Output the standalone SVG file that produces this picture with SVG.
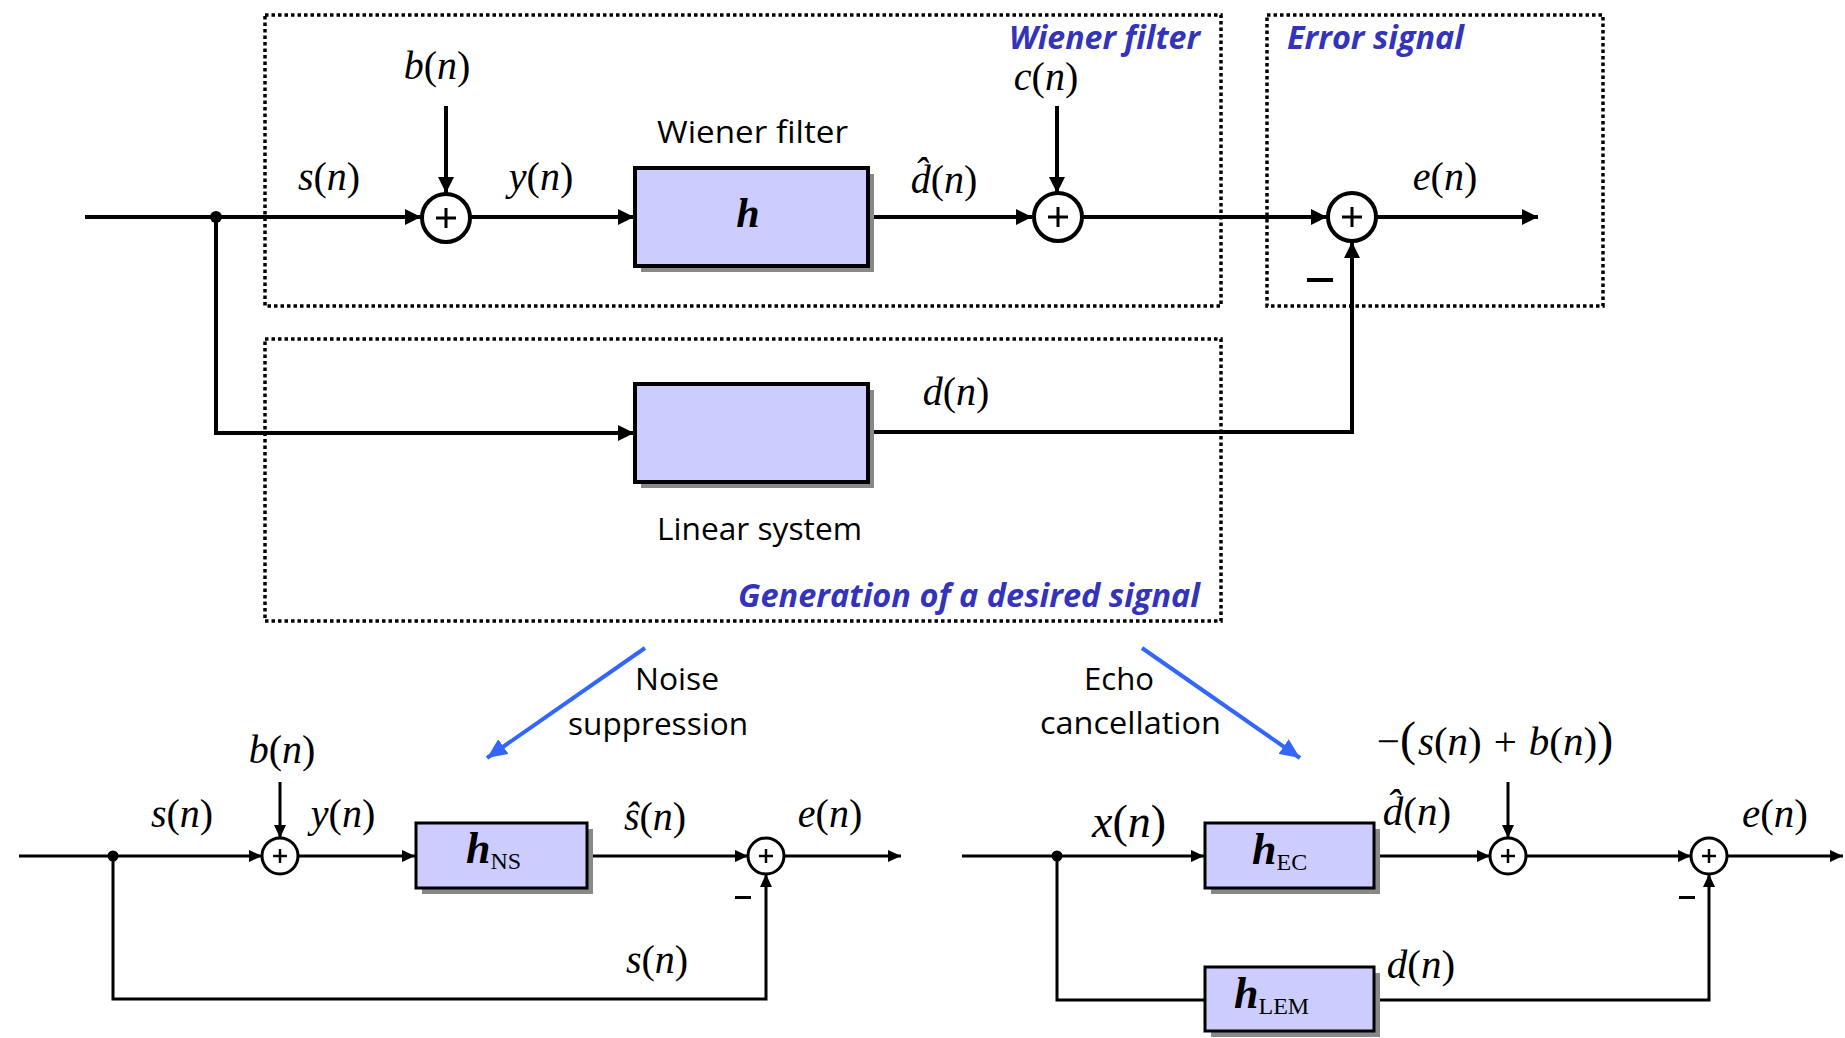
<svg xmlns="http://www.w3.org/2000/svg" width="1845" height="1038" viewBox="0 0 1845 1038">
<style>
.bg{fill:#ffffff}
.w{fill:none;stroke:#000;stroke-width:4}
.t{fill:none;stroke:#000;stroke-width:3}
.dot{fill:none;stroke:#000;stroke-width:3.5;stroke-dasharray:3.5 3}
.box{fill:#ccccff;stroke:#000;stroke-width:4}
.box2{fill:#ccccff;stroke:#000;stroke-width:3}
.sh{fill:#888888}
.sum{fill:#fff;stroke:#000;stroke-width:4}
.sum2{fill:#fff;stroke:#000;stroke-width:3}
.m{font-family:"Liberation Serif",serif;fill:#000}
.mi{font-style:italic}
.sans{font-family:"Open Sans","Liberation Sans",sans-serif;fill:#000}
.lbl{font-family:"Open Sans","Liberation Sans",sans-serif;font-weight:bold;font-style:italic;fill:#3333bb;font-size:32px}
.hb{font-family:"Liberation Serif",serif;font-weight:bold;font-style:italic}
.sub{font-family:"Liberation Serif",serif;font-size:24px}
.blue{fill:none;stroke:#3366ff;stroke-width:4}
</style>
<defs>
<marker id="ab" viewBox="0 0 16 16" refX="16" refY="8" markerWidth="16" markerHeight="16" markerUnits="userSpaceOnUse" orient="auto"><path d="M0,0 L16,8 L0,16 z" fill="#000"/></marker>
<marker id="as" viewBox="0 0 13 12" refX="13" refY="6" markerWidth="13" markerHeight="12" markerUnits="userSpaceOnUse" orient="auto"><path d="M0,0 L13,6 L0,12 z" fill="#000"/></marker>
<marker id="abl" viewBox="0 0 20 18" refX="20" refY="9" markerWidth="20" markerHeight="18" markerUnits="userSpaceOnUse" orient="auto"><path d="M0,0 L20,9 L0,18 z" fill="#3366ff"/></marker>
</defs>
<rect class="bg" x="0" y="0" width="1845" height="1038"/>

<!-- region frames -->
<g id="frame-wiener">
<rect class="dot" x="265" y="15" width="956" height="291"/>
<text class="lbl" x="1009" y="49" textLength="191" lengthAdjust="spacingAndGlyphs">Wiener filter</text>
</g>
<g id="frame-error">
<rect class="dot" x="1267" y="15" width="336" height="291"/>
<text class="lbl" x="1287" y="49" textLength="177" lengthAdjust="spacingAndGlyphs">Error signal</text>
</g>
<g id="frame-generation">
<rect class="dot" x="265" y="339" width="956" height="282"/>
<text class="lbl" x="738" y="607" textLength="462" lengthAdjust="spacingAndGlyphs">Generation of a desired signal</text>
</g>

<!-- connectors -->
<g id="connectors">
<!-- top -->
<line class="w" x1="85" y1="217" x2="421" y2="217" marker-end="url(#ab)"/>
<line class="w" x1="446" y1="106" x2="446" y2="193" marker-end="url(#ab)"/>
<line class="w" x1="471" y1="217" x2="634" y2="217" marker-end="url(#ab)"/>
<line class="w" x1="868" y1="217" x2="1032" y2="217" marker-end="url(#ab)"/>
<line class="w" x1="1057" y1="106" x2="1057" y2="193" marker-end="url(#ab)"/>
<line class="w" x1="1082" y1="217" x2="1327" y2="217" marker-end="url(#ab)"/>
<line class="w" x1="1377" y1="217" x2="1538" y2="217" marker-end="url(#ab)"/>
<polyline class="w" points="216,217 216,433 634,433" marker-end="url(#ab)"/>
<polyline class="w" points="868,432 1352,432 1352,242" marker-end="url(#ab)"/>
<!-- bottom left -->
<line class="t" x1="19" y1="856" x2="262" y2="856" marker-end="url(#as)"/>
<line class="t" x1="280" y1="782" x2="280" y2="838" marker-end="url(#as)"/>
<line class="t" x1="298" y1="856" x2="415" y2="856" marker-end="url(#as)"/>
<line class="t" x1="587" y1="856" x2="748" y2="856" marker-end="url(#as)"/>
<line class="t" x1="784" y1="856" x2="901" y2="856" marker-end="url(#as)"/>
<polyline class="t" points="113,856 113,999 766,999 766,874" marker-end="url(#as)"/>
<!-- bottom right -->
<line class="t" x1="962" y1="856" x2="1204" y2="856" marker-end="url(#as)"/>
<line class="t" x1="1374" y1="856" x2="1490" y2="856" marker-end="url(#as)"/>
<line class="t" x1="1508" y1="782" x2="1508" y2="838" marker-end="url(#as)"/>
<line class="t" x1="1526" y1="856" x2="1691" y2="856" marker-end="url(#as)"/>
<line class="t" x1="1727" y1="856" x2="1843" y2="856" marker-end="url(#as)"/>
<polyline class="t" points="1057,856 1057,1000 1205,1000"/>
<polyline class="t" points="1374,1000 1709,1000 1709,874" marker-end="url(#as)"/>
<!-- blue pointers -->
<line class="blue" x1="645" y1="648" x2="487" y2="758" marker-end="url(#abl)"/>
<line class="blue" x1="1142" y1="648" x2="1300" y2="758" marker-end="url(#abl)"/>
</g>

<!-- top diagram nodes -->
<g id="junction-top"><circle cx="216" cy="217" r="6" fill="#000"/></g>
<g id="sum-1">
<circle class="sum" cx="446" cy="218" r="24"/>
<path d="M436,218 H456 M446,208 V228" stroke="#000" stroke-width="3"/>
</g>
<g id="wiener-filter">
<rect class="sh" x="641" y="174" width="233" height="98"/>
<rect class="box" x="635" y="168" width="233" height="98"/>
<text class="hb" x="748" y="227" font-size="42" text-anchor="middle">h</text>
<text class="sans" x="657" y="143" font-size="31" textLength="191" lengthAdjust="spacingAndGlyphs">Wiener filter</text>
</g>
<g id="sum-2">
<circle class="sum" cx="1058" cy="217" r="24"/>
<path d="M1048,217 H1068 M1058,207 V227" stroke="#000" stroke-width="3"/>
</g>
<g id="sum-3">
<circle class="sum" cx="1352" cy="217" r="24"/>
<path d="M1342,217 H1362 M1352,207 V227" stroke="#000" stroke-width="3"/>
<rect x="1307" y="278" width="26" height="4" fill="#000"/>
</g>
<g id="linear-system">
<rect class="sh" x="641" y="390" width="233" height="98"/>
<rect class="box" x="635" y="384" width="233" height="98"/>
<text class="sans" x="657" y="540" font-size="31" textLength="205" lengthAdjust="spacingAndGlyphs">Linear system</text>
</g>

<!-- top labels -->
<g id="labels-top" class="m" font-size="40">
<text x="437" y="79" text-anchor="middle"><tspan class="mi">b</tspan>(<tspan class="mi">n</tspan>)</text>
<text x="329" y="190" text-anchor="middle"><tspan class="mi">s</tspan>(<tspan class="mi">n</tspan>)</text>
<text x="541" y="190" text-anchor="middle"><tspan class="mi">y</tspan>(<tspan class="mi">n</tspan>)</text>
<text x="944" y="193" text-anchor="middle"><tspan class="mi">d̂</tspan>(<tspan class="mi">n</tspan>)</text>
<text x="1046" y="90" text-anchor="middle"><tspan class="mi">c</tspan>(<tspan class="mi">n</tspan>)</text>
<text x="1445" y="190" text-anchor="middle"><tspan class="mi">e</tspan>(<tspan class="mi">n</tspan>)</text>
<text x="956" y="405" text-anchor="middle"><tspan class="mi">d</tspan>(<tspan class="mi">n</tspan>)</text>
</g>

<!-- captions -->
<g id="caption-noise" class="sans" font-size="31">
<text x="635" y="690" textLength="84" lengthAdjust="spacingAndGlyphs">Noise</text>
<text x="568" y="735" textLength="180" lengthAdjust="spacingAndGlyphs">suppression</text>
</g>
<g id="caption-echo" class="sans" font-size="31">
<text x="1084" y="690" textLength="70" lengthAdjust="spacingAndGlyphs">Echo</text>
<text x="1040" y="734" textLength="181" lengthAdjust="spacingAndGlyphs">cancellation</text>
</g>

<!-- bottom left nodes -->
<g id="junction-ns"><circle cx="113" cy="856" r="5.5" fill="#000"/></g>
<g id="sum-ns-1">
<circle class="sum2" cx="280" cy="856" r="18"/>
<path d="M273,856 H287 M280,849 V863" stroke="#000" stroke-width="2.5"/>
</g>
<g id="h-ns">
<rect class="sh" x="422" y="829" width="171" height="65"/>
<rect class="box2" x="416" y="823" width="171" height="65"/>
<text x="466" y="863"><tspan class="hb" font-size="44">h</tspan><tspan class="sub" dy="6">NS</tspan></text>
</g>
<g id="sum-ns-2">
<circle class="sum2" cx="766" cy="856" r="18"/>
<path d="M759,856 H773 M766,849 V863" stroke="#000" stroke-width="2.5"/>
<rect x="735" y="896" width="16" height="3" fill="#000"/>
</g>
<g id="labels-ns" class="m" font-size="40">
<text x="282" y="763" text-anchor="middle"><tspan class="mi">b</tspan>(<tspan class="mi">n</tspan>)</text>
<text x="182" y="827" text-anchor="middle"><tspan class="mi">s</tspan>(<tspan class="mi">n</tspan>)</text>
<text x="343" y="827" text-anchor="middle"><tspan class="mi">y</tspan>(<tspan class="mi">n</tspan>)</text>
<text x="655" y="830" text-anchor="middle"><tspan class="mi">ŝ</tspan>(<tspan class="mi">n</tspan>)</text>
<text x="830" y="827" text-anchor="middle"><tspan class="mi">e</tspan>(<tspan class="mi">n</tspan>)</text>
<text x="657" y="973" text-anchor="middle"><tspan class="mi">s</tspan>(<tspan class="mi">n</tspan>)</text>
</g>

<!-- bottom right nodes -->
<g id="junction-ec"><circle cx="1057" cy="856" r="5.5" fill="#000"/></g>
<g id="h-ec">
<rect class="sh" x="1211" y="829" width="169" height="65"/>
<rect class="box2" x="1205" y="823" width="169" height="65"/>
<text x="1252" y="864"><tspan class="hb" font-size="44">h</tspan><tspan class="sub" dy="6">EC</tspan></text>
</g>
<g id="sum-ec-1">
<circle class="sum2" cx="1508" cy="856" r="18"/>
<path d="M1501,856 H1515 M1508,849 V863" stroke="#000" stroke-width="2.5"/>
</g>
<g id="sum-ec-2">
<circle class="sum2" cx="1709" cy="856" r="18"/>
<path d="M1702,856 H1716 M1709,849 V863" stroke="#000" stroke-width="2.5"/>
<rect x="1679" y="896" width="16" height="3" fill="#000"/>
</g>
<g id="h-lem">
<rect class="sh" x="1211" y="973" width="169" height="64"/>
<rect class="box2" x="1205" y="967" width="169" height="64"/>
<text x="1234" y="1008"><tspan class="hb" font-size="44">h</tspan><tspan class="sub" dy="6">LEM</tspan></text>
</g>
<g id="labels-ec" class="m" font-size="41">
<text x="1129" y="837" text-anchor="middle" font-size="46"><tspan class="mi">x</tspan>(<tspan class="mi">n</tspan>)</text>
<text x="1417" y="825" text-anchor="middle"><tspan class="mi">d̂</tspan>(<tspan class="mi">n</tspan>)</text>
<text x="1495" y="755" text-anchor="middle">−<tspan font-size="48">(</tspan><tspan class="mi" dx="2">s</tspan>(<tspan class="mi">n</tspan>)<tspan dx="12">+</tspan><tspan class="mi" dx="12">b</tspan>(<tspan class="mi">n</tspan>)<tspan font-size="48">)</tspan></text>
<text x="1775" y="827" text-anchor="middle"><tspan class="mi">e</tspan>(<tspan class="mi">n</tspan>)</text>
<text x="1421" y="978" text-anchor="middle"><tspan class="mi">d</tspan>(<tspan class="mi">n</tspan>)</text>
</g>
</svg>
